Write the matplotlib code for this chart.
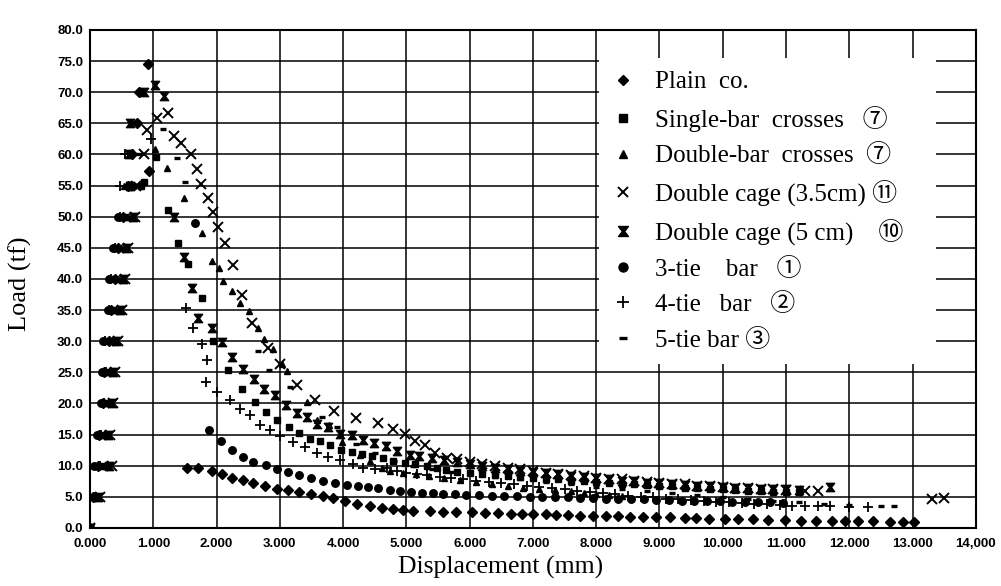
import matplotlib
matplotlib.use("Agg")
import matplotlib.pyplot as plt
from matplotlib.path import Path
from matplotlib.font_manager import FontProperties

# ---------------- data ----------------
PLAIN_X = [0.00, 0.05, 0.12, 0.14, 0.20, 0.22, 0.30, 0.33, 0.40, 0.45, 0.52, 0.60, 0.66, 0.74, 0.78, 0.92, 0.93,
           1.53, 1.71, 1.93, 2.09, 2.24, 2.42, 2.58, 2.76, 2.95, 3.13, 3.30, 3.50, 3.68, 3.84, 4.03, 4.22, 4.42,
           4.61, 4.79, 4.95, 5.11, 5.37, 5.58, 5.79, 6.03, 6.24, 6.45, 6.66, 6.82, 7.00, 7.21, 7.37, 7.56, 7.74,
           7.95, 8.16, 8.35, 8.53, 8.74, 8.95, 9.16, 9.40, 9.58, 9.79, 10.03, 10.24, 10.48, 10.71, 10.98, 11.24,
           11.48, 11.72, 11.93, 12.14, 12.38, 12.64, 12.85, 13.03]
PLAIN_Y = [0, 5, 10, 15, 20, 25, 30, 35, 40, 45, 50, 55, 60, 65, 70, 74.5, 57.3,
           9.6, 9.6, 9.1, 8.6, 8.0, 7.7, 7.2, 6.8, 6.3, 6.1, 5.8, 5.5, 5.1, 4.8, 4.3, 3.9, 3.5, 3.2, 3.0, 2.9,
           2.8, 2.7, 2.6, 2.5, 2.5, 2.4, 2.4, 2.3, 2.3, 2.2, 2.2, 2.1, 2.1, 2.0, 2.0, 1.9, 1.9, 1.8, 1.8, 1.7,
           1.7, 1.6, 1.6, 1.5, 1.5, 1.4, 1.4, 1.3, 1.3, 1.2, 1.2, 1.2, 1.1, 1.1, 1.1, 1.0, 1.0, 1.0]

SQ_X = [0.00, 0.06, 0.20, 0.20, 0.25, 0.28, 0.27, 0.36, 0.37, 0.42, 0.56, 0.80, 0.86, 1.05, 1.23, 1.39, 1.55,
        1.77, 1.94, 2.18, 2.40, 2.60, 2.78, 2.96, 3.14, 3.31, 3.47, 3.63, 3.79, 3.96, 4.14, 4.30, 4.45, 4.63,
        4.79, 4.98, 5.13, 5.32, 5.48, 5.63, 5.80, 6.00, 6.20, 6.40, 6.60, 6.80, 7.00, 7.20, 7.40, 7.60, 7.80,
        8.00, 8.20, 8.40, 8.60, 8.80, 9.00, 9.20, 9.40, 9.60, 9.80, 10.00, 10.20, 10.40, 10.60, 10.80, 11.00, 11.20]
SQ_Y = [0, 5, 10, 15, 20, 25, 30, 35, 40, 45, 50, 55, 55.5, 59.6, 51.1, 45.8, 42.4, 36.9, 30.0, 25.4, 22.3,
        20.2, 18.6, 17.3, 16.2, 15.3, 14.3, 13.9, 13.3, 12.5, 12.2, 11.9, 11.6, 11.3, 10.8, 10.5, 10.2, 10.0,
        9.6, 9.3, 9.0, 8.8, 8.6, 8.5, 8.3, 8.2, 8.0, 7.9, 7.8, 7.6, 7.5, 7.4, 7.2, 7.1, 7.0, 6.9, 6.8, 6.7,
        6.5, 6.4, 6.3, 6.2, 6.1, 6.0, 5.9, 5.8, 5.8, 5.7]

TRI_X = [0.00, 0.10, 0.24, 0.23, 0.28, 0.31, 0.34, 0.40, 0.44, 0.49, 0.60, 0.53, 1.03, 1.22, 1.49, 1.77, 1.93,
         2.04, 2.10, 2.24, 2.37, 2.51, 2.65, 2.75, 2.89, 3.03, 3.11, 3.43, 3.59, 3.78, 3.98, 4.27, 4.42, 4.61,
         4.74, 4.95, 5.15, 5.35, 5.60, 5.85, 6.10, 6.35, 6.60, 6.85, 7.10, 7.35, 7.60, 7.80, 8.00, 8.20, 8.40]
TRI_Y = [0, 5, 10, 15, 20, 25, 30, 35, 40, 45, 50, 55, 60.8, 57.8, 53.0, 47.4, 42.9, 41.8, 39.7, 38.1, 36.1,
         34.8, 32.1, 30.3, 28.7, 26.4, 25.2, 20.3, 17.4, 16.6, 13.8, 11.8, 10.8, 9.7, 9.2, 8.9, 8.6, 8.3, 8.0,
         7.7, 7.4, 7.1, 6.8, 6.5, 6.3, 6.1, 5.9, 5.6, 5.5, 5.3, 5.2]

CAGE35_X = [0.00, 0.16, 0.35, 0.32, 0.37, 0.40, 0.44, 0.50, 0.55, 0.60, 0.71, 0.73, 0.85, 0.90, 1.06, 1.23,
            1.33, 1.44, 1.60, 1.69, 1.75, 1.86, 1.94, 2.02, 2.13, 2.26, 2.40, 2.56, 2.81, 3.00, 3.27, 3.55,
            3.85, 4.20, 4.55, 4.79, 4.98, 5.13, 5.29, 5.45, 5.64, 5.80, 6.00, 6.20, 6.40, 6.60, 6.80, 7.00,
            7.20, 7.40, 7.60, 7.80, 8.00, 8.20, 8.40, 8.60, 8.80, 9.00, 9.20, 9.40, 9.60, 9.80, 10.00, 10.20,
            10.40, 10.60, 10.80, 11.00, 11.30, 11.50, 13.30, 13.50]
CAGE35_Y = [0, 5, 10, 15, 20, 25, 30, 35, 40, 45, 50, 55, 60, 64.0, 65.9, 66.7, 63.0, 61.9, 60.0, 57.7, 55.3,
            53.0, 50.7, 48.3, 45.7, 42.2, 37.5, 32.9, 28.9, 26.3, 23.0, 20.5, 18.8, 17.6, 16.8, 15.9, 15.1,
            14.0, 13.4, 12.0, 11.2, 11.1, 10.6, 10.2, 9.9, 9.6, 9.4, 9.1, 8.9, 8.7, 8.5, 8.3, 8.1, 7.9, 7.8,
            7.6, 7.4, 7.3, 7.1, 7.0, 6.8, 6.7, 6.6, 6.5, 6.4, 6.3, 6.2, 6.1, 6.0, 6.0, 4.7, 4.8]

CAGE5_X = [0.00, 0.13, 0.30, 0.29, 0.34, 0.37, 0.41, 0.47, 0.52, 0.57, 0.68, 0.63, 0.62, 0.64, 0.86, 1.03,
           1.17, 1.33, 1.48, 1.61, 1.71, 1.93, 2.08, 2.24, 2.42, 2.59, 2.75, 2.92, 3.10, 3.27, 3.43, 3.59,
           3.76, 3.95, 4.14, 4.31, 4.49, 4.68, 4.85, 5.06, 5.20, 5.40, 5.60, 5.80, 6.00, 6.20, 6.40, 6.60,
           6.80, 7.00, 7.20, 7.40, 7.60, 7.80, 8.00, 8.20, 8.40, 8.60, 8.80, 9.00, 9.20, 9.40, 9.60, 9.80,
           10.00, 10.20, 10.40, 10.60, 10.80, 11.00, 11.20, 11.70]
CAGE5_Y = [0, 5, 10, 15, 20, 25, 30, 35, 40, 45, 50, 55, 60, 65, 70, 71.2, 69.4, 49.9, 43.6, 38.6, 33.8,
           32.1, 29.9, 27.5, 25.6, 23.9, 22.3, 21.3, 19.7, 18.4, 17.8, 16.7, 16.2, 15.1, 14.9, 14.2, 13.6,
           13.1, 12.4, 11.8, 11.6, 11.2, 10.9, 10.6, 10.3, 10.0, 9.7, 9.5, 9.2, 9.0, 8.8, 8.6, 8.4, 8.2, 8.0,
           7.8, 7.6, 7.5, 7.3, 7.2, 7.0, 6.9, 6.8, 6.7, 6.6, 6.5, 6.4, 6.3, 6.2, 6.2, 6.1, 6.6]

TIE3_X = [0.00, 0.07, 0.07, 0.11, 0.17, 0.19, 0.21, 0.28, 0.30, 0.36, 0.44, 0.68, 1.66, 1.88, 2.07, 2.24,
          2.42, 2.58, 2.78, 2.95, 3.13, 3.30, 3.50, 3.68, 3.87, 4.06, 4.23, 4.39, 4.55, 4.74, 4.90, 5.08,
          5.24, 5.42, 5.58, 5.77, 5.95, 6.15, 6.35, 6.55, 6.75, 6.95, 7.15, 7.35, 7.55, 7.75, 7.95, 8.15,
          8.35, 8.55, 8.75, 8.95, 9.15, 9.35, 9.55, 9.75, 9.95, 10.15, 10.35, 10.55, 10.75, 10.95]
TIE3_Y = [0, 5, 10, 15, 20, 25, 30, 35, 40, 45, 50, 55, 49.0, 15.7, 13.9, 12.6, 11.4, 10.6, 10.1, 9.4, 9.0,
          8.5, 8.0, 7.6, 7.3, 6.9, 6.8, 6.6, 6.4, 6.1, 5.9, 5.8, 5.6, 5.6, 5.5, 5.4, 5.3, 5.3, 5.2, 5.1,
          5.1, 5.0, 5.0, 4.9, 4.9, 4.8, 4.8, 4.7, 4.7, 4.6, 4.6, 4.5, 4.5, 4.4, 4.4, 4.3, 4.3, 4.2, 4.2,
          4.1, 4.1, 4.0]

TIE4_X = [0.00, 0.09, 0.16, 0.17, 0.22, 0.25, 0.24, 0.30, 0.33, 0.39, 0.48, 0.48, 0.55, 0.97, 1.52, 1.63,
          1.77, 1.85, 1.83, 2.00, 2.21, 2.37, 2.53, 2.69, 2.84, 3.00, 3.21, 3.40, 3.59, 3.76, 3.95, 4.15,
          4.31, 4.50, 4.69, 4.85, 5.00, 5.16, 5.32, 5.53, 5.70, 5.90, 6.10, 6.30, 6.50, 6.70, 6.90, 7.10,
          7.30, 7.50, 7.70, 7.90, 8.10, 8.30, 8.50, 8.70, 8.90, 9.10, 9.30, 9.50, 9.70, 9.90, 10.10, 10.30,
          10.50, 10.70, 10.90, 11.10, 11.30, 11.50, 11.70, 12.00, 12.30]
TIE4_Y = [0, 5, 10, 15, 20, 25, 30, 35, 40, 45, 50, 55, 60, 62.4, 35.3, 32.1, 29.5, 27.0, 23.5, 21.9, 20.6,
          19.1, 18.2, 16.6, 15.8, 14.7, 13.8, 13.0, 12.1, 11.4, 10.9, 10.3, 9.7, 9.4, 9.6, 9.1, 8.8, 8.7,
          8.5, 8.2, 8.0, 7.8, 7.6, 7.4, 7.2, 7.0, 6.8, 6.6, 6.4, 6.2, 6.0, 5.8, 5.6, 5.4, 5.2, 5.0, 4.9,
          4.7, 4.6, 4.5, 4.4, 4.2, 4.1, 4.0, 3.9, 3.8, 3.7, 3.6, 3.6, 3.5, 3.5, 3.4, 3.4]

TIE5_X = [0.00, 0.11, 0.27, 0.26, 0.31, 0.34, 0.37, 0.43, 0.48, 0.53, 0.64, 0.57, 0.78, 1.15, 1.37, 1.50,
          2.65, 2.83, 3.16, 3.67, 3.90, 4.20, 4.50, 4.80, 5.10, 5.40, 5.70, 6.00, 6.40, 6.80, 7.20, 7.60,
          8.00, 8.40, 8.80, 9.20, 9.60, 10.00, 10.40, 10.80, 11.20, 11.60, 12.00, 12.50, 12.70]
TIE5_Y = [0, 5, 10, 15, 20, 25, 30, 35, 40, 45, 50, 55, 60, 64.1, 59.4, 55.5, 28.4, 25.4, 22.6, 17.8, 16.2,
          13.5, 12.0, 10.8, 10.0, 9.4, 9.0, 8.6, 8.2, 7.8, 7.4, 7.0, 6.6, 6.2, 5.9, 5.6, 5.3, 5.0, 4.7,
          4.4, 4.1, 3.9, 3.7, 3.6, 3.6]

LABELS = ["Plain  co.", "Single-bar  crosses   \u2466", "Double-bar  crosses  \u2466",
          "Double cage (3.5cm) \u246A", "Double cage (5 cm)    \u2469",
          "3-tie    bar   \u2460", "4-tie   bar   \u2461", "5-tie bar \u2462"]

X_TICKS = [0, 1, 2, 3, 4, 5, 6, 7, 8, 9, 10, 11, 12, 13, 14]
X_TICK_LABELS = ["0.000", "1.000", "2.000", "3.000", "4.000", "5.000", "6.000", "7.000",
                 "8.000", "9.000", "10.000", "11.000", "12.000", "13.000", "14,000"]
Y_TICKS = [0, 5, 10, 15, 20, 25, 30, 35, 40, 45, 50, 55, 60, 65, 70, 75, 80]
Y_TICK_LABELS = ["%.1f" % v for v in Y_TICKS]

# ---------------- styling ----------------
hourglass = Path([(-1, 1), (1, 1), (0.22, 0), (1, -1), (-1, -1), (-0.22, 0), (-1, 1)],
                 [Path.MOVETO, Path.LINETO, Path.LINETO, Path.LINETO, Path.LINETO, Path.LINETO,
                  Path.CLOSEPOLY])

series = [
    (PLAIN_X, PLAIN_Y, dict(marker='D', markersize=4.6)),
    (SQ_X, SQ_Y, dict(marker='s', markersize=5.0)),
    (TRI_X, TRI_Y, dict(marker='^', markersize=4.6)),
    (CAGE35_X, CAGE35_Y, dict(marker='x', markersize=6.5, markeredgewidth=1.4)),
    (CAGE5_X, CAGE5_Y, dict(marker=hourglass, markersize=6.0)),
    (TIE3_X, TIE3_Y, dict(marker='o', markersize=5.4)),
    (TIE4_X, TIE4_Y, dict(marker='+', markersize=7.0, markeredgewidth=1.3)),
    (TIE5_X, TIE5_Y, dict(marker='_', markersize=5.0, markeredgewidth=2.4)),
]

fig = plt.figure(figsize=(10.01, 5.86), dpi=100)
ax = fig.add_axes([0.0899, 0.099, 0.885, 0.850])

handles = []
for (xs, ys, st), lab in zip(series, LABELS):
    h, = ax.plot(xs, ys, linestyle='none', color='black', markerfacecolor='black',
                 markeredgecolor='black', label=lab, zorder=3, **st)
    handles.append(h)

ax.set_xlim(0, 14)
ax.set_ylim(0, 80)
ax.set_xticks(X_TICKS)
ax.set_xticklabels(X_TICK_LABELS)
ax.set_yticks(Y_TICKS)
ax.set_yticklabels(Y_TICK_LABELS)
ax.grid(True, color='black', linewidth=1.1)
ax.set_axisbelow(True)
for sp in ax.spines.values():
    sp.set_linewidth(1.5)
    sp.set_color('black')

for lbl in ax.get_xticklabels() + ax.get_yticklabels():
    lbl.set_fontfamily('Liberation Sans')
    lbl.set_fontweight('bold')
    lbl.set_fontsize(9.5)
ax.tick_params(axis='both', length=0)
ax.tick_params(axis='y', pad=5)
ax.tick_params(axis='x', pad=7)

ax.set_ylabel("Load (tf)", fontfamily='Liberation Serif', fontsize=19)
ax.yaxis.set_label_coords(-0.066, 0.49)
ax.set_xlabel("Displacement (mm)", fontfamily='Liberation Serif', fontsize=18.5)
ax.xaxis.set_label_coords(0.463, -0.056)

fp = FontProperties(family=['Liberation Serif', 'Noto Sans CJK JP'], size=18)
leg = ax.legend(handles=handles, loc='upper left', bbox_to_anchor=(0.5745, 0.25, 0.381, 0.693),
                mode='expand', frameon=True, fancybox=False, edgecolor='none', facecolor='white',
                framealpha=1, prop=fp, labelspacing=0.5, handlelength=0.9, handletextpad=0.85,
                borderpad=0.5, borderaxespad=0.0, markerscale=1.2)
leg.set_zorder(5)

fig.savefig("out.png", dpi=100)
